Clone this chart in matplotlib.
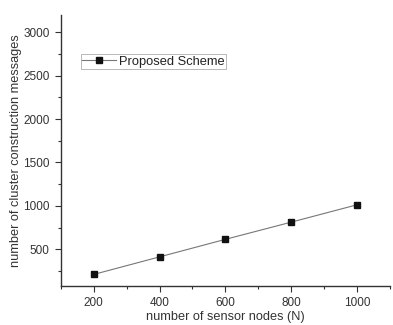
import matplotlib.pyplot as plt
from matplotlib.ticker import MultipleLocator

plt.rcParams['font.family'] = ['Liberation Sans', 'DejaVu Sans']

nodes = [200, 400, 600, 800, 1000]
messages = [210, 412, 614, 812, 1012]
series_label = "Proposed Scheme"

fig = plt.figure(figsize=(3.93, 3.25), dpi=100)
ax = fig.add_axes([0.155, 0.121, 0.837, 0.833])

ax.plot(nodes, messages, color="#777777", lw=0.8, marker="s", ms=4.5,
        mfc="#111111", mec="#111111", label=series_label)

ax.set_xlim(100, 1100)
ax.set_ylim(80, 3200)
ax.xaxis.set_minor_locator(MultipleLocator(100))
ax.yaxis.set_minor_locator(MultipleLocator(250))
ax.set_xticks([200, 400, 600, 800, 1000])
ax.set_yticks([500, 1000, 1500, 2000, 2500, 3000])

for s in ["top", "right"]:
    ax.spines[s].set_visible(False)
for s in ["left", "bottom"]:
    ax.spines[s].set_linewidth(1.0)
    ax.spines[s].set_color("#333333")

ax.tick_params(which="major", direction="out", length=4, width=0.8,
               labelsize=8.5, colors="#333333", pad=4)
ax.tick_params(which="minor", direction="out", length=2.5, width=0.8,
               colors="#333333")

ax.set_xlabel("number of sensor nodes (N)", fontsize=9.2, color="#333333", labelpad=1.5)
ax.set_ylabel("number of cluster construction messages", fontsize=9.2,
              color="#333333", labelpad=1)

leg = ax.legend(loc="upper left", bbox_to_anchor=(0.06, 0.855), frameon=True,
                fontsize=9.3, handlelength=2.6, handletextpad=0.3,
                borderpad=0.1, borderaxespad=0, fancybox=False)
leg.get_frame().set_edgecolor("#999999")
leg.get_frame().set_linewidth(0.6)
for t in leg.get_texts():
    t.set_color("#222222")

fig.savefig("out.png", dpi=100)
